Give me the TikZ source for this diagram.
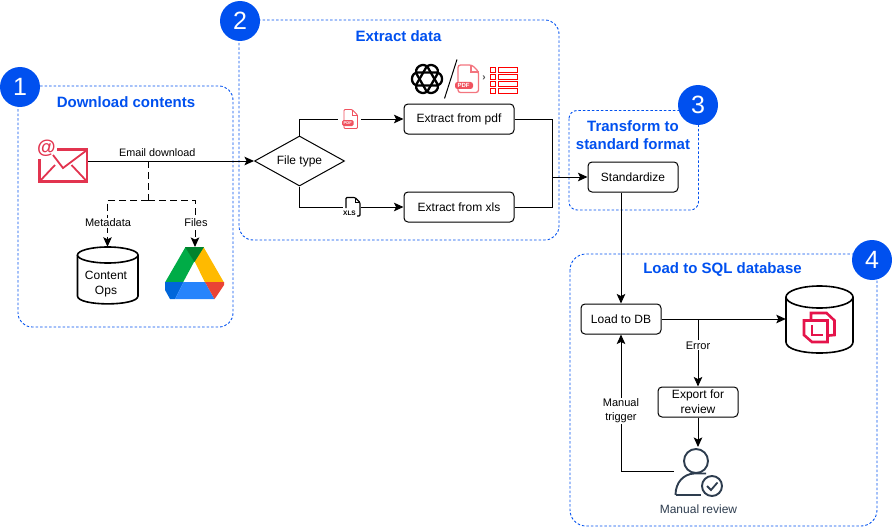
\documentclass[tikz,border=0pt]{standalone}
\usepackage{fontspec}
\setmainfont{Liberation Sans}
\usetikzlibrary{arrows.meta,shapes.geometric,calc}
\definecolor{bluett}{HTML}{0050EF}
\definecolor{dashb}{HTML}{0050EF}
\definecolor{redm}{HTML}{E2344F}
\definecolor{redp}{HTML}{F0525F}
\definecolor{crims}{HTML}{E5144B}
\definecolor{slate}{HTML}{2E3D4F}
\tikzset{
 grp/.style={draw=dashb,dash pattern=on 2.5pt off 2pt,rounded corners=14pt,line width=.9pt},
 badge/.style={circle,fill=bluett,minimum size=40pt,inner sep=0pt,text=white,font=\fontsize{25}{25}\selectfont},
 ttl/.style={text=bluett,font=\bfseries\fontsize{15}{18}\selectfont,align=center},
 proc/.style={draw,rounded corners=4pt,line width=1pt,fill=white,font=\fontsize{12}{15}\selectfont,align=center,inner sep=0pt},
 lbl/.style={fill=white,font=\fontsize{11}{14}\selectfont,align=center,inner sep=1pt},
 arr/.style={-{Stealth[length=9.5pt,width=8.5pt,inset=2pt]},line width=1pt},
 dsh/.style={dash pattern=on 7pt off 4pt},
 cyl/.style={line width=1.6pt,fill=white},
}
\begin{document}
\begin{tikzpicture}[x=1pt,y=-1pt]
\useasboundingbox (0,0) rectangle (892,527);
% groups
\draw[grp] (18,86) rectangle (233,327);
\draw[grp] (239,20) rectangle (559,240);
\draw[grp,rounded corners=8pt] (569,110.5) rectangle (698.5,210);
\draw[grp,rounded corners=16pt] (570,254) rectangle (877,526);
\node[badge] (b1) at (20,87) {1};
\node[badge] (b2) at (240,21) {2};
\node[badge] (b3) at (698,105) {3};
\node[badge] (b4) at (872,260) {4};
\node[ttl] (t1) at (126,102) {Download contents};
\node[ttl] (t2) at (398.5,36) {Extract data};
\node[ttl] (t3) at (633,135) {Transform to\\standard format};
\node[ttl] (t4) at (722.5,270) {Load to SQL database};
% email icon
\draw[redm,line width=2.2pt] (57,149.5) -- (87,149.5) -- (87,181.5) -- (39.5,181.5) -- (39.5,159);
\draw[redm,line width=1.8pt] (39.5,181.5) -- (55,165) (87,181.5) -- (71.5,165) (53,155) -- (63,168) -- (87,150);
\node[text=redm,font=\bfseries\fontsize{19}{19}\selectfont,inner sep=0pt] (at) at (46.5,148) {@};
\coordinate (mailr) at (88,161);
% process nodes
\node[draw,diamond,aspect=1.8,line width=1pt,minimum width=90pt,minimum height=50pt,inner sep=0pt,font=\fontsize{12}{14}\selectfont] (ft) at (299.5,161) {File type};
\node[proc,minimum width=110pt,minimum height=30pt] (ep) at (459,119) {Extract from pdf};
\node[proc,minimum width=110pt,minimum height=30pt] (ex) at (459,207) {Extract from xls};
\node[proc,minimum width=90pt,minimum height=30pt] (st) at (633,177) {Standardize};
\node[proc,minimum width=80pt,minimum height=30pt] (ld) at (621,319) {Load to DB};
\node[proc,minimum width=80pt,minimum height=30pt] (ex2) at (698,402) {Export for\\review};
% cylinders
\node[minimum width=60pt,minimum height=57pt,inner sep=0pt] (co) at (107.5,275.5) {};
\draw[cyl] (77.5,255) -- (77.5,296) .. controls (77.5,306.5) and (138,306.5) .. (138,296) -- (138,255);
\draw[cyl] (107.75,255) ellipse (30.25pt and 8pt);
\node[font=\fontsize{12}{15}\selectfont,align=center,inner sep=0pt] (cot) at (106,284) {Content\\Ops};
\node[minimum width=67pt,minimum height=60pt,inner sep=0pt] (db) at (819.5,319) {};
\draw[cyl] (786,297) -- (786,342) .. controls (786,356.67) and (853,356.67) .. (853,342) -- (853,297);
\draw[cyl] (819.5,297) ellipse (33.5pt and 11pt);
% db logo
\draw[crims,line width=2.6pt,line join=miter] (811,319) -- (811,313) -- (826.5,313) -- (834.5,320.5) -- (834.5,335) -- (829,335.5);
\draw[crims,line width=2.6pt,line join=miter] (804,320.5) -- (827.5,320.5) -- (827.5,342) -- (812,342) -- (804,335) -- cycle;
\draw[crims,line width=2pt] (811.5,325) -- (811.5,335) -- (823,335);
% drive icon
\coordinate (gd) at (195,247);
\fill[color={rgb,255:red,0;green,172;blue,71}] (185.5,247) -- (194.5,261) -- (183,282.5) -- (165,282.5) -- cycle;
\fill[color={rgb,255:red,255;green,186;blue,0}] (203.5,247) -- (224,282.5) -- (205,282.5) -- (194.5,261) -- cycle;
\fill[color={rgb,255:red,0;green,131;blue,45}] (185,247) -- (204,247) -- (194.5,262) -- cycle;
\fill[color={rgb,255:red,0;green,102;blue,218}] (165,282) -- (183.5,282) -- (175,299) -- (170,299) -- (165,290) -- cycle;
\fill[color={rgb,255:red,38;green,132;blue,252}] (183.5,282) -- (205,282) -- (214.5,299) -- (175,299) -- cycle;
\fill[color={rgb,255:red,234;green,67;blue,53}] (205,282) -- (224,282) -- (224,285) -- (216,297) -- (214.5,299) -- cycle;
% connectors
\draw[arr] (mailr) -- node[pos=.417,above=1.5pt,inner sep=2pt,font=\fontsize{10.8}{12}\selectfont] (ed) {Email download} (ft.west);
\coordinate (j1) at (148,161);
\coordinate (j2) at (148,200);
\draw[line width=1pt,dsh] (j1) -- (j2);
\draw[arr,dsh] (j2) -- (107.5,200) -- (co.north);
\draw[arr,dsh] (j2) -- (195,200) -- (gd);
\node[lbl] (lm) at (108,223) {Metadata};
\node[lbl] (lf) at (196,223) {Files};
\draw[arr] (ft.north) |- (ep.west);
\draw[arr] (ft.south) |- (ex.west);
\coordinate (mrg) at (552,177);
\draw[line width=1pt] (ep.east) -| (mrg);
\draw[line width=1pt] (ex.east) -| (mrg);
\draw[arr] (mrg) -- (st.west);
\draw[arr] (ld.north |- st.south) -- (ld.north);
\draw[arr] (ld.east) -- (db.west);
\coordinate (errj) at (698,319);
\draw[arr] (errj) -- node[lbl,pos=.39] (le) {Error} (ex2.north);
\coordinate (usr) at (698,447);
\draw[arr] (ex2.south) -- (usr);
\coordinate (usl) at (674,471);
\draw[arr] (usl) -| node[lbl,pos=.72] (lt) {Manual\\trigger} (ld.south);
% pdf small icon
\fill[white] (338,106) rectangle (361,132);
\draw[redp,line width=.9pt,rounded corners=1pt] (344,109.5) -- (352,109.5) -- (357.5,115) -- (357.5,128.5) -- (344,128.5) -- cycle;
\draw[redp,line width=.7pt] (352,110) -- (352,115) -- (357.5,115);
\fill[redp,rounded corners=1.5pt] (342,120) rectangle (353.5,126);
\node[text=white,font=\bfseries\fontsize{4}{4}\selectfont,inner sep=0pt] (pdfs) at (347.7,123) {PDF};
% xls small icon
\fill[white] (343,194) rectangle (361,218);
\draw[line width=1.1pt,rounded corners=1pt] (346,208) -- (346,197.5) -- (355,197.5) -- (360,202.5) -- (360,216) -- (357,216);
\draw[line width=.8pt] (355,197.5) -- (355,202.5) -- (360,202.5);
\node[font=\bfseries\fontsize{6.5}{6.5}\selectfont,inner sep=0pt] (xl) at (349.5,213.5) {XLS};
% openai logo
\foreach \a in {0,60,120}{
 \draw[line width=2.3pt,rounded corners=6pt,rotate around={\a:(427,79)}] (412,72.5) rectangle (442,85.5);
}
\draw[line width=1pt] (444.5,98.5) -- (457,59.5);
% large pdf
\draw[redp!80,line width=1.3pt,rounded corners=2.5pt] (458,92.5) -- (458,65) -- (472,65) -- (478.5,71.5) -- (478.5,92.5) -- cycle;
\draw[redp!80,line width=1.1pt] (471,65) -- (471,72) -- (478.5,72);
\fill[redp,rounded corners=2.5pt] (455,82) rectangle (473,89);
\node[text=white,font=\bfseries\fontsize{6}{6}\selectfont,inner sep=0pt] (pdft) at (463.5,85.5) {PDF};
\node[text=black!70,font=\bfseries\fontsize{10}{10}\selectfont,inner sep=0pt] (gt) at (484,78.5) {›};
% table icon
\foreach \y in {70,77,84,91}{
 \draw[red,line width=1pt] (490.5,\y-2.7) rectangle (495.5,\y+2.7) (498,\y-2.7) rectangle (517,\y+2.7);
}
% user icon
\draw[slate,line width=1.9pt] (696,461) circle (12pt);
\draw[slate,line width=1.9pt] (675.5,495) .. controls (675.5,482) and (684,474) .. (694,473.5) -- (706,473.5);
\draw[slate,line width=1.9pt] (675.5,495) -- (701,495);
\draw[slate,line width=1.9pt] (712,486) circle (10pt);
\draw[slate,line width=1.8pt] (707,486) -- (711,490) -- (717.5,482.5);
\node[text=slate,font=\fontsize{12}{14}\selectfont,inner sep=0pt] (mr) at (698.5,509) {Manual review};
\end{tikzpicture}
\end{document}
